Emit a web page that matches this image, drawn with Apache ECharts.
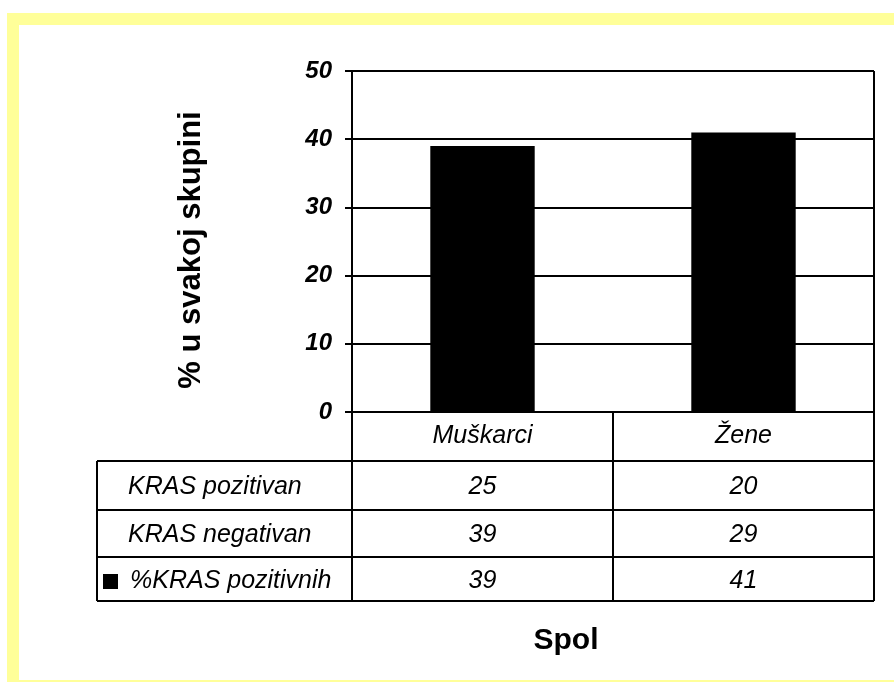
<!DOCTYPE html>
<html>
<head>
<meta charset="utf-8">
<script src="https://cdn.jsdelivr.net/npm/echarts@6/dist/echarts.min.js"></script>
<style>
  html, body { margin: 0; padding: 0; background: #fff; }
  #chart { width: 894px; height: 682px; }
</style>
</head>
<body>
<div id="chart"></div>
<script>
const categories = ['Muškarci', 'Žene']
const krasPozitivan = [25, 20]
const krasNegativan = [39, 29]
const postoPozitivnih = [39, 41]
const rowNames = ['KRAS pozitivan', 'KRAS negativan', '%KRAS pozitivnih']
const rows = [krasPozitivan, krasNegativan, postoPozitivnih]

const font = '"Liberation Sans", Arial, sans-serif'
const yellow = '#ffff99'
// table layout (px)
const tableLeft = 97
const rowLines = [461, 510, 557, 601]

const chart = echarts.init(document.getElementById('chart'))
chart.setOption({
  animation: false,
  grid: { left: 352, top: 71, right: 20, bottom: 270 },
  xAxis: {
    type: 'category',
    data: categories,
    axisLine: { lineStyle: { color: '#000', width: 2 } },
    axisTick: { show: false },
    axisLabel: { color: '#000', fontFamily: font, fontStyle: 'italic', fontSize: 25, margin: 12 }
  },
  yAxis: {
    type: 'value',
    min: 0,
    max: 50,
    interval: 10,
    axisLine: { show: true, lineStyle: { color: '#000', width: 2 } },
    axisTick: { show: true, length: 7, lineStyle: { color: '#000', width: 2 } },
    splitLine: { lineStyle: { color: '#000', width: 2 } },
    axisLabel: { color: '#000', fontFamily: font, fontStyle: 'italic', fontWeight: 'bold', fontSize: 24, margin: 20 }
  },
  series: [{
    name: '%KRAS pozitivnih',
    type: 'bar',
    data: postoPozitivnih,
    barWidth: '40%',
    itemStyle: { color: '#000' }
  }]
})

// table under the axis, columns follow the category axis
const left = chart.convertToPixel({ xAxisIndex: 0 }, categories[0])
const right = chart.convertToPixel({ xAxisIndex: 0 }, categories[1])
const colW = right - left
const plotLeft = left - colW / 2
const plotRight = right + colW / 2
const top0 = chart.convertToPixel({ yAxisIndex: 0 }, 0)
const top50 = chart.convertToPixel({ yAxisIndex: 0 }, 50)

const lineStyle = { stroke: '#000', lineWidth: 2 }
const graphic = []
const line = (x1, y1, x2, y2) => graphic.push({ type: 'line', shape: { x1, y1, x2, y2 }, style: lineStyle, silent: true })

// yellow frame
graphic.push({ type: 'rect', shape: { x: 7, y: 13, width: 887, height: 12 }, style: { fill: yellow } })
graphic.push({ type: 'rect', shape: { x: 7, y: 13, width: 12, height: 669 }, style: { fill: yellow } })
graphic.push({ type: 'rect', shape: { x: 7, y: 680, width: 887, height: 2 }, style: { fill: yellow } })

line(plotRight, top50, plotRight, rowLines[3])
line(plotLeft, top0, plotLeft, rowLines[3])
line(plotLeft + colW, top0, plotLeft + colW, rowLines[3])
line(tableLeft, rowLines[0], tableLeft, rowLines[3])
rowLines.forEach(y => line(tableLeft, y, plotRight, y))

rows.forEach((vals, r) => {
  const cy = (rowLines[r] + rowLines[r + 1]) / 2 + 2
  graphic.push({
    type: 'text', x: r === 2 ? 130 : 128, y: cy,
    style: { text: rowNames[r], fill: '#000', font: 'italic 25px ' + font, verticalAlign: 'middle', align: 'left' }
  })
  vals.forEach((v, c) => {
    graphic.push({
      type: 'text', x: chart.convertToPixel({ xAxisIndex: 0 }, categories[c]), y: cy,
      style: { text: String(v), fill: '#000', font: 'italic 25px ' + font, verticalAlign: 'middle', align: 'center' }
    })
  })
})
// legend key for the bar series
graphic.push({ type: 'rect', shape: { x: 103, y: 574, width: 15, height: 15 }, style: { fill: '#000' } })

// axis titles
graphic.push({
  type: 'text', x: 191, y: 250, rotation: Math.PI / 2,
  style: { text: '% u svakoj skupini', fill: '#000', font: 'bold 31px ' + font, verticalAlign: 'middle', align: 'center' }
})
graphic.push({
  type: 'text', x: 566, y: 641,
  style: { text: 'Spol', fill: '#000', font: 'bold 30px ' + font, verticalAlign: 'middle', align: 'center' }
})

chart.setOption({ graphic })
</script>
</body>
</html>
